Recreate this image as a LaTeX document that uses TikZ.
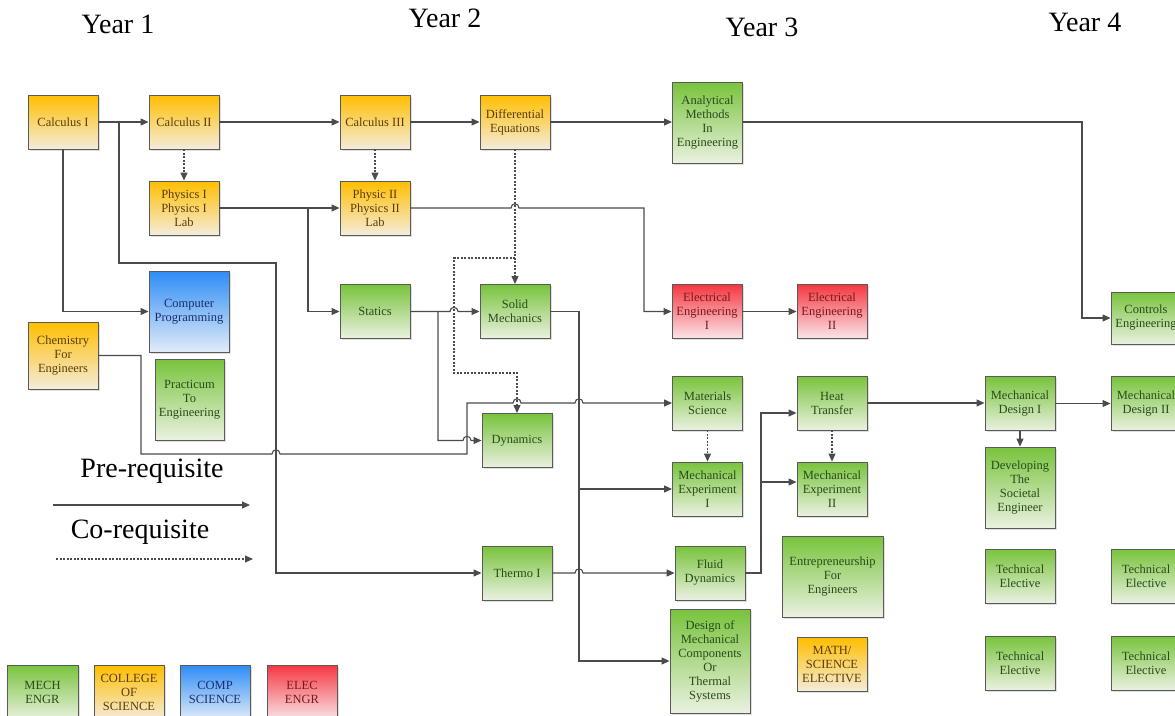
\documentclass[tikz,border=0pt]{standalone}
\usepackage{fontspec}
\setmainfont{Liberation Serif}
\usetikzlibrary{arrows.meta, shadows, calc}

\definecolor{greentop}{RGB}{120,195,60}
\definecolor{greenbot}{RGB}{234,241,224}
\definecolor{orangetop}{RGB}{255,190,0}
\definecolor{orangebot}{RGB}{244,236,220}
\definecolor{bluetop}{RGB}{45,140,245}
\definecolor{bluebot}{RGB}{226,236,248}
\definecolor{redtop}{RGB}{245,55,65}
\definecolor{redbot}{RGB}{250,229,233}
\definecolor{greentext}{RGB}{40,75,25}
\definecolor{orangetext}{RGB}{90,60,10}
\definecolor{bluetext}{RGB}{25,45,110}
\definecolor{redtext}{RGB}{120,25,25}
\definecolor{linegray}{RGB}{75,75,75}
\definecolor{boxgray}{RGB}{90,90,90}

\newcommand{\hopover}[1]{-- ([xshift=-4pt]#1) .. controls ([xshift=-4pt,yshift=5.5pt]#1) and ([xshift=4pt,yshift=5.5pt]#1) .. ([xshift=4pt]#1)}

\tikzset{
  course/.style={draw=boxgray, line width=0.9pt, minimum width=70pt, minimum height=54pt,
    inner sep=1pt, align=center, font=\fontsize{12.5}{14}\selectfont,
    drop shadow={opacity=0.25, shadow xshift=1.5pt, shadow yshift=-1.5pt}},
  mechbox/.style={course, top color=greentop, bottom color=greenbot, text=greentext},
  scibox/.style={course, top color=orangetop, bottom color=orangebot, text=orangetext},
  compbox/.style={course, top color=bluetop, bottom color=bluebot, text=bluetext},
  elecbox/.style={course, top color=redtop, bottom color=redbot, text=redtext},
  prereq/.style={draw=linegray, line width=1.1pt, -{Triangle[length=8pt,width=7pt]}},
  coreq/.style={prereq, dash pattern=on 2pt off 1.5pt},
  bigtext/.style={font=\fontsize{28}{30}\selectfont, inner sep=0pt}
}

\begin{document}
\begin{tikzpicture}[x=1pt, y=-1pt]
  \useasboundingbox (0,0) rectangle (1175,715);

  % years
  \node[bigtext] (year1) at (118,24) {Year 1};
  \node[bigtext] (year2) at (445,18) {Year 2};
  \node[bigtext] (year3) at (762,27) {Year 3};
  \node[bigtext] (year4) at (1085,22) {Year 4};

  % year 1
  \node[scibox] (calc1) at (63,122) {Calculus I};
  \node[scibox] (calc2) at (184,122) {Calculus II};
  \node[scibox] (phys1) at (184,208) {Physics I\\Physics I\\Lab};
  \node[compbox, minimum width=80pt, minimum height=81pt] (comp) at (189,311.5) {Computer\\Programming};
  \node[scibox, minimum height=67pt] (chem) at (63,355.5) {Chemistry\\For\\Engineers};
  \node[mechbox, minimum width=69pt, minimum height=81pt] (pract) at (189.5,399.5) {Practicum\\To\\Engineering};

  % year 2
  \node[scibox] (calc3) at (375,122) {Calculus III};
  \node[scibox] (diffeq) at (515,122) {Differential\\Equations};
  \node[scibox] (phys2) at (375,208) {Physic II\\Physics II\\Lab};
  \node[mechbox] (statics) at (375,311.5) {Statics};
  \node[mechbox] (solid) at (515,311.5) {Solid\\Mechanics};
  \node[mechbox] (dyn) at (517,440.5) {Dynamics};
  \node[mechbox] (thermo) at (517,573) {Thermo I};

  % year 3
  \node[mechbox, minimum height=81pt] (anal) at (707.5,122.5) {Analytical\\Methods\\In\\Engineering};
  \node[elecbox] (ee1) at (707,311.5) {Electrical\\Engineering\\I};
  \node[elecbox] (ee2) at (832,311.5) {Electrical\\Engineering\\II};
  \node[mechbox] (matsci) at (707.5,403) {Materials\\Science};
  \node[mechbox] (heat) at (832,403) {Heat\\Transfer};
  \node[mechbox] (mech1) at (707.5,489) {Mechanical\\Experiment\\I};
  \node[mechbox] (mech2) at (832,489) {Mechanical\\Experiment\\II};
  \node[mechbox] (fluid) at (710,573) {Fluid\\Dynamics};
  \node[mechbox, minimum width=101pt, minimum height=81pt] (entre) at (832.5,576.5) {Entrepreneurship\\For\\Engineers};
  \node[mechbox, minimum width=80pt, minimum height=104pt] (dmc) at (710,661) {Design of\\Mechanical\\Components\\Or\\Thermal\\Systems};
  \node[scibox] (mse) at (832,664.5) {MATH/\\SCIENCE\\ELECTIVE};

  % year 4
  \node[mechbox, minimum height=52pt] (controls) at (1146,318) {Controls\\Engineering};
  \node[mechbox] (des1) at (1020,403.5) {Mechanical\\Design I};
  \node[mechbox] (des2) at (1146,403.5) {Mechanical\\Design II};
  \node[mechbox, minimum height=81pt] (soc) at (1020,487.5) {Developing\\The\\Societal\\Engineer};
  \node[mechbox] (te1) at (1020,576) {Technical\\Elective};
  \node[mechbox] (te2) at (1146,576) {Technical\\Elective};
  \node[mechbox] (te3) at (1020,663) {Technical\\Elective};
  \node[mechbox] (te4) at (1146,663) {Technical\\Elective};

  % colour key
  \node[mechbox, minimum width=71pt, minimum height=55pt] (keymech) at (42.5,692.5) {MECH\\ENGR};
  \node[scibox, minimum height=55pt] (keysci) at (129,692.5) {COLLEGE\\OF\\SCIENCE};
  \node[compbox, minimum height=55pt] (keycomp) at (215,692.5) {COMP\\SCIENCE};
  \node[elecbox, minimum height=55pt] (keyelec) at (302,692.5) {ELEC\\ENGR};

  % line key
  \node[bigtext] (pretext) at (152,471) {Pre-requisite};
  \node[bigtext] (cotext) at (140,532) {Co-requisite};
  \coordinate (prea) at (53,505);
  \coordinate (preb) at (250,505);
  \coordinate (coa) at (56,559);
  \coordinate (cob) at (253,559);
  \draw[prereq] (prea) -- (preb);
  \draw[coreq] (coa) -- (cob);

  % branch points
  \coordinate (c1b) at (119,122);
  \coordinate (p1b) at (308,208);
  \coordinate (stb) at (438,311.5);
  \coordinate (dk1) at (454,258);
  \coordinate (dk2) at (454,373);
  \coordinate (smb) at (579,311.5);
  \coordinate (fdb) at (761,573);

  % pre-requisites
  \draw[prereq] (calc1) -- (calc2);
  \draw[prereq] (calc2) -- (calc3);
  \draw[prereq] (calc3) -- (diffeq);
  \draw[prereq] (diffeq.east) -- (diffeq.east -| anal.west);
  \draw[prereq] (c1b) |- (276,263) |- (thermo.west);
  \draw[prereq] (calc1.south) |- (comp.west);
  \draw[prereq] (phys1) -- (phys2);
  \draw[prereq] (p1b) |- (statics.west);
  \draw[prereq] (phys2.east) \hopover{diffeq.south |- phys2.east} -- (644,208) |- (ee1.west);
  \draw[prereq] (anal.east |- diffeq.east) -- (1082,122) |- (controls.west);
  \draw[prereq] (statics.east) \hopover{dk1 |- statics.east} -- (solid.west);
  \draw[prereq] (stb) -- (438,440.5) \hopover{467,440.5} -- (dyn.west);
  \draw[prereq] (chem.east) -- (141,355.5) -- (141,454) \hopover{276,454} -- (467,454) -- (467,403)
    \hopover{dyn.north |- matsci.west} \hopover{smb |- matsci.west} -- (matsci.west);
  \draw[prereq] (solid.east) -- (smb) |- (dmc.west);
  \draw[prereq] (smb |- mech1.west) -- (mech1.west);
  \draw[prereq] (thermo.east) \hopover{smb |- thermo.east} -- (fluid.west);
  \draw[prereq] (fluid.east) -- (fdb) |- ([yshift=-10pt]heat.west);
  \draw[prereq] (fdb |- 0,482) -- ([yshift=7pt]mech2.west);
  \draw[prereq] (heat.east) -- (heat.east -| des1.west);
  \draw[prereq] (des1) -- (des2);
  \draw[prereq] (des1) -- (soc);
  \draw[prereq] (ee1) -- (ee2);

  % co-requisites
  \draw[coreq] (calc2) -- (phys1);
  \draw[coreq] (calc3) -- (phys2);
  \draw[coreq] (diffeq) -- (solid);
  \draw[coreq] (diffeq.south |- dk1) -- (dk1) -- (dk2) -| (dyn.north);
  \draw[coreq] (matsci) -- (mech1);
  \draw[coreq] (heat) -- (mech2);
\end{tikzpicture}
\end{document}
